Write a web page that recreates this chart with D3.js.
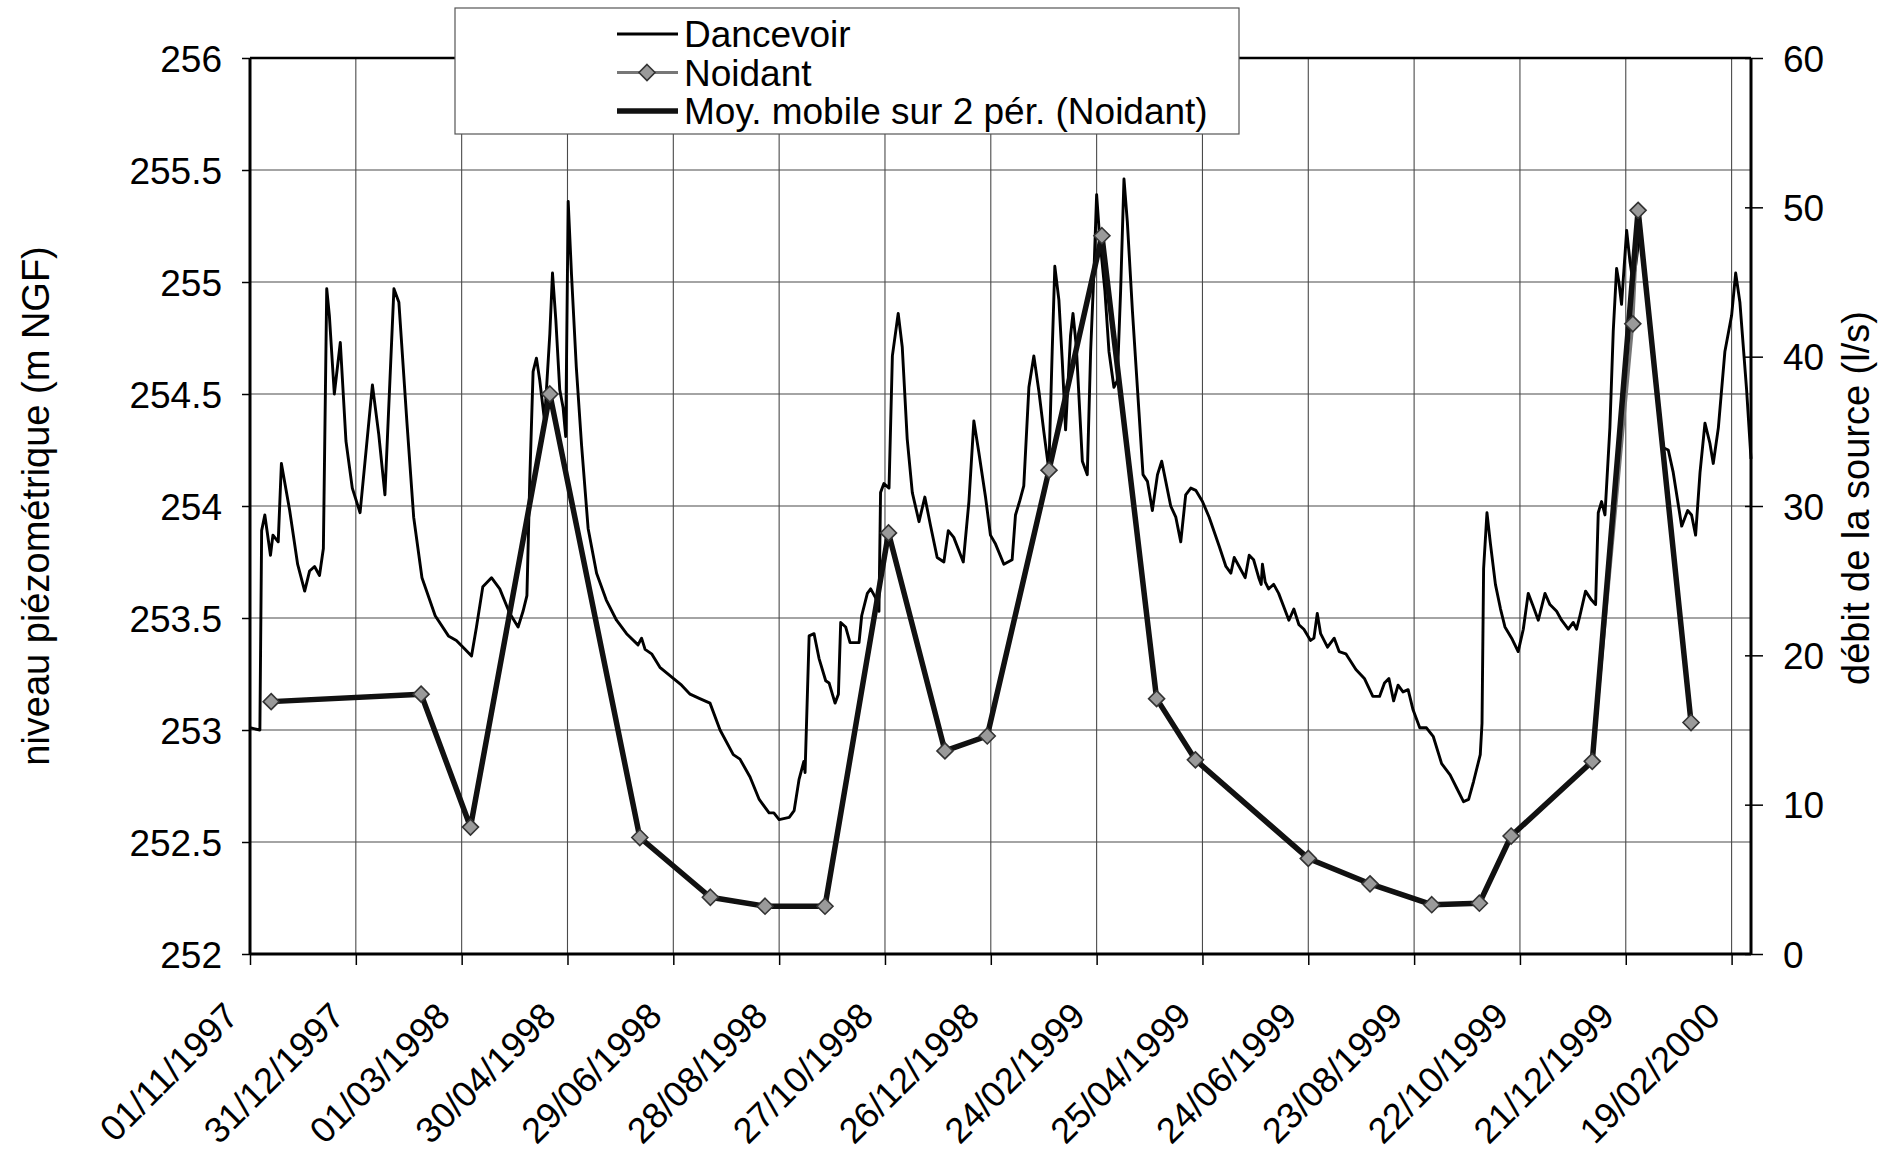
<!DOCTYPE html>
<html>
<head>
<meta charset="utf-8">
<script src="https://cdn.jsdelivr.net/npm/d3@7"></script>
<style>
  html, body { margin: 0; padding: 0; background: #fff; }
  svg { display: block; font-family: "Liberation Sans", Arial, Helvetica, sans-serif; }
</style>
</head>
<body>
<svg id="chart" width="1896" height="1161"></svg>
<script>
// Origine des séries : les jours sont comptés depuis le 01/11/1997
const debut = "1997-11-01";

// Étiquettes de l'axe des dates (pas de 60 jours)
const etiquettesDates = [
  "01/11/1997", "31/12/1997", "01/03/1998", "30/04/1998", "29/06/1998",
  "28/08/1998", "27/10/1998", "26/12/1998", "24/02/1999", "25/04/1999",
  "24/06/1999", "23/08/1999", "22/10/1999", "21/12/1999", "19/02/2000"
];
const finAxe = "01/03/2000";

// Graduations des deux axes verticaux
const ticksNiveau = [252, 252.5, 253, 253.5, 254, 254.5, 255, 255.5, 256];
const ticksDebit = [0, 10, 20, 30, 40, 50, 60];

// Piézomètre de Dancevoir : niveau (m NGF)
const dancevoirJour = [
  0, 5.6, 6.6, 8.4, 11.6, 13, 16, 17.8, 22.5, 27, 31, 33.8, 36.6, 39.4, 41.6, 43.5, 45, 47.8, 51.2, 54.4,
  58, 62.4, 69.4, 73, 76.5, 81.6, 84.4, 89, 92.8, 97.5, 105, 112.5, 117, 121.9, 125.6, 128.4, 132, 136.9, 141.6, 147.3,
  152, 154.8, 157, 158.6, 160.5, 162.4, 164.3, 167, 170, 171.5, 173.4, 175.6, 177.5, 179, 180.4, 182.3, 185, 188, 191.7, 196.5,
  202, 207.8, 213.5, 220, 222, 224, 227.7, 232.4, 240, 244.7, 249.5, 255, 260.8, 266.5, 274, 277.8, 283.5, 288.7, 294.3, 297,
  300, 305.7, 308.5, 311.3, 314, 314.7, 317, 319.8, 322.6, 326.4, 328.3, 331.7, 333.6, 334.9, 337.7, 340.2, 345.3, 346.8, 350, 351.9,
  354.7, 356.6, 357.5, 359.4, 362.3, 364.2, 367.5, 369.8, 372.6, 375.5, 379.3, 382.6, 385.9, 389.6, 393.4, 395.9, 399, 404.4, 407.6, 410.4,
  413.2, 417, 419.8, 422.7, 427.4, 432.1, 434, 436.3, 438.7, 441.6, 444.4, 447.3, 450.1, 452.9, 454.8, 456.3, 458.6, 460.5, 462.4, 465.2,
  466.6, 468.5, 471.9, 474.7, 476.6, 478.5, 480, 481.7, 484.7, 487, 489.8, 491.7, 493.6, 495.5, 497.4, 500.3, 504, 506.3, 508.8, 511.6,
  514.5, 516.9, 519.2, 522, 524.9, 527.7, 530.5, 533.4, 536.2, 540, 543.8, 549.5, 553.3, 556.1, 558, 560.8, 564.2, 566.5, 569, 571.9,
  573.3, 574, 575.6, 577.5, 580.4, 583.2, 586.1, 589, 591.8, 594.7, 597.5, 601.3, 603.2, 605.1, 607, 610.9, 614.7, 617.5, 621.3, 627,
  631.8, 636.6, 640.4, 643.2, 645.7, 648.4, 650.9, 653.7, 656.6, 659.4, 663.2, 667, 670.9, 675.6, 680.4, 684.2, 688, 690.9, 693.7, 697.5,
  698.5, 699.4, 701.3, 703.3, 706.1, 709, 711.5, 715.3, 719, 721.9, 724.7, 727.6, 730.4, 734.2, 737, 740.8, 743.6, 747.4, 750.2, 752.1,
  754, 757.2, 760.6, 762.9, 764.4, 766.3, 768.2, 771, 772.9, 774.8, 776.1, 777.6, 780.5, 782.4, 783.7, 785.2, 788, 790.9, 794.7, 798.4,
  801.3, 804.1, 806.9, 811.7, 815.1, 817.3, 819.6, 822.1, 824.9, 827.7, 829.6, 832.5, 836.2, 840, 842.3, 844.7, 848.5, 851
];
const dancevoirNiveau = [
  253.01, 253.00, 253.89, 253.96, 253.78, 253.87, 253.84, 254.19, 253.98, 253.74, 253.62, 253.71, 253.73, 253.69, 253.81, 254.97, 254.85, 254.50, 254.73, 254.29,
  254.08, 253.97, 254.54, 254.32, 254.05, 254.97, 254.91, 254.37, 253.95, 253.68, 253.51, 253.42, 253.40, 253.36, 253.33, 253.46, 253.64, 253.68, 253.63, 253.52,
  253.46, 253.53, 253.60, 254.11, 254.60, 254.66, 254.56, 254.38, 254.77, 255.04, 254.83, 254.52, 254.44, 254.31, 255.36, 255.03, 254.62, 254.27, 253.90, 253.70,
  253.58, 253.49, 253.43, 253.38, 253.41, 253.36, 253.34, 253.28, 253.23, 253.20, 253.16, 253.14, 253.12, 253.00, 252.89, 252.87, 252.79, 252.69, 252.63, 252.63,
  252.60, 252.61, 252.64, 252.78, 252.86, 252.81, 253.42, 253.43, 253.32, 253.22, 253.21, 253.12, 253.16, 253.48, 253.46, 253.39, 253.39, 253.51, 253.61, 253.63,
  253.59, 253.53, 254.06, 254.10, 254.08, 254.67, 254.86, 254.71, 254.30, 254.06, 253.93, 254.04, 253.91, 253.77, 253.75, 253.89, 253.86, 253.75, 254.02, 254.38,
  254.24, 254.04, 253.87, 253.83, 253.74, 253.76, 253.96, 254.02, 254.09, 254.53, 254.67, 254.51, 254.33, 254.16, 254.69, 255.07, 254.92, 254.65, 254.34, 254.76,
  254.86, 254.71, 254.20, 254.14, 254.69, 255.05, 255.39, 255.20, 254.96, 254.69, 254.53, 254.56, 254.96, 255.46, 255.27, 254.87, 254.42, 254.14, 254.11, 253.98,
  254.14, 254.20, 254.11, 254.00, 253.95, 253.84, 254.05, 254.08, 254.07, 254.02, 253.95, 253.82, 253.73, 253.70, 253.77, 253.73, 253.68, 253.78, 253.76, 253.68,
  253.65, 253.74, 253.66, 253.63, 253.65, 253.61, 253.55, 253.49, 253.54, 253.47, 253.45, 253.40, 253.41, 253.52, 253.43, 253.37, 253.41, 253.35, 253.34, 253.27,
  253.23, 253.15, 253.15, 253.21, 253.23, 253.13, 253.20, 253.17, 253.18, 253.09, 253.01, 253.01, 252.97, 252.85, 252.80, 252.74, 252.68, 252.69, 252.77, 252.89,
  253.03, 253.72, 253.97, 253.83, 253.65, 253.54, 253.46, 253.41, 253.35, 253.45, 253.61, 253.55, 253.49, 253.61, 253.56, 253.53, 253.49, 253.45, 253.48, 253.45,
  253.51, 253.62, 253.58, 253.56, 253.97, 254.02, 253.96, 254.35, 254.78, 255.06, 255.00, 254.90, 255.23, 255.09, 255.02, 255.05, 255.22, 255.03, 254.74, 254.47,
  254.26, 254.25, 254.15, 253.91, 253.98, 253.96, 253.87, 254.15, 254.37, 254.28, 254.19, 254.35, 254.69, 254.85, 255.04, 254.91, 254.52, 254.21
];

// Source de Noidant : débit mesuré (l/s)
const noidantJour = [12, 97, 125, 170, 221, 261, 292, 326, 362, 394, 418, 453, 483, 514, 536, 600, 635, 670, 697, 715, 761, 784, 787, 817];
const noidantDebit = [16.9, 17.4, 8.5, 37.5, 7.8, 3.8, 3.2, 3.2, 28.2, 13.6, 14.6, 32.4, 48.1, 17.1, 13.0, 6.4, 4.7, 3.3, 3.4, 7.9, 12.9, 42.2, 49.8, 15.5];

// Moyenne mobile sur 2 périodes (Noidant)
const moyMobileJour = [12, 97, 125, 170, 221, 261, 292, 326, 362, 394, 418, 453, 483, 514, 536, 600, 635, 670, 697, 715, 761, 787, 817];
const moyMobileDebit = [16.9, 17.4, 8.5, 37.5, 7.8, 3.8, 3.2, 3.2, 28.2, 13.6, 14.6, 32.4, 48.1, 17.1, 13.0, 6.4, 4.7, 3.3, 3.4, 7.9, 12.9, 49.8, 15.5];

// ---------------------------------------------------------------------------
const svg = d3.select("#chart");
const W = 1896, H = 1161;
const plot = { left: 250, right: 1751, top: 58, bottom: 954 };

const parseFr = d3.utcParse("%d/%m/%Y");
const t0 = d3.utcParse("%Y-%m-%d")(debut);
const jour = j => new Date(t0.getTime() + j * 86400000);
const datesTicks = etiquettesDates.map(parseFr);

const x = d3.scaleUtc().domain([t0, parseFr(finAxe)]).range([plot.left, plot.right]);
const yN = d3.scaleLinear().domain([252, 256]).range([plot.bottom, plot.top]);
const yD = d3.scaleLinear().domain([0, 60]).range([plot.bottom, plot.top]);

svg.append("rect").attr("width", W).attr("height", H).attr("fill", "#fff");

// Quadrillage
const grille = svg.append("g").attr("stroke", "#4a4a4a").attr("stroke-width", 1.1);
grille.selectAll("line.h").data(ticksNiveau.slice(1, -1)).join("line")
  .attr("x1", plot.left).attr("x2", plot.right)
  .attr("y1", d => yN(d)).attr("y2", d => yN(d));
grille.selectAll("line.v").data(datesTicks.slice(1)).join("line")
  .attr("y1", plot.top).attr("y2", plot.bottom)
  .attr("x1", d => x(d)).attr("x2", d => x(d));

// Séries
const dancevoir = dancevoirJour.map((j, i) => ({ t: jour(j), v: dancevoirNiveau[i] }));
const noidant = noidantJour.map((j, i) => ({ t: jour(j), v: noidantDebit[i] }));
const moyMobile = moyMobileJour.map((j, i) => ({ t: jour(j), v: moyMobileDebit[i] }));

const ligneN = d3.line().x(d => x(d.t)).y(d => yN(d.v));
const ligneD = d3.line().x(d => x(d.t)).y(d => yD(d.v));

svg.append("path").datum(dancevoir).attr("d", ligneN)
  .attr("fill", "none").attr("stroke", "#000").attr("stroke-width", 2.9)
  .attr("stroke-linejoin", "round");

svg.append("path").datum(noidant).attr("d", ligneD)
  .attr("fill", "none").attr("stroke", "#777").attr("stroke-width", 3)
  .attr("stroke-linejoin", "round");

svg.append("path").datum(moyMobile).attr("d", ligneD)
  .attr("fill", "none").attr("stroke", "#111").attr("stroke-width", 5.5)
  .attr("stroke-linejoin", "round");

const losange = r => `M0,${-r}L${r},0L0,${r}L${-r},0Z`;
svg.append("g").selectAll("path").data(noidant).join("path")
  .attr("d", losange(8))
  .attr("transform", d => `translate(${x(d.t)},${yD(d.v)})`)
  .attr("fill", "#9a9a9a").attr("stroke", "#333").attr("stroke-width", 1.6);

// Axes
const styleAxe = (taille) => g => {
  g.select(".domain").remove();
  g.selectAll(".tick line").attr("stroke", "#000").attr("stroke-width", 1.5);
  g.selectAll("text").attr("fill", "#000").attr("font-size", taille)
    .attr("font-family", "'Liberation Sans', Arial, sans-serif");
};

svg.append("g").attr("transform", `translate(${plot.left},0)`)
  .call(d3.axisLeft(yN).tickValues(ticksNiveau).tickFormat(d => String(d)).tickSize(8).tickPadding(20))
  .call(styleAxe(37))
  .call(g => g.selectAll("text").attr("dy", "0.36em"));

svg.append("g").attr("transform", `translate(${plot.right},0)`)
  .call(d3.axisRight(yD).tickValues(ticksDebit).tickSize(12).tickPadding(20))
  .call(styleAxe(37))
  .call(g => g.selectAll(".tick line").attr("x1", -6))
  .call(g => g.selectAll("text").attr("dy", "0.36em"));

svg.append("g").attr("transform", `translate(0,${plot.bottom})`)
  .call(d3.axisBottom(x).tickValues(datesTicks).tickFormat((d, i) => etiquettesDates[i]).tickSize(11))
  .call(styleAxe(36))
  .call(g => g.selectAll("text")
    .attr("text-anchor", "end").attr("x", null).attr("y", null).attr("dy", null)
    .attr("transform", "translate(-10,64) rotate(-45)"));

// Cadre de la zone de tracé
const cadre = svg.append("g").attr("stroke", "#000").attr("fill", "none");
cadre.append("line").attr("x1", plot.left).attr("x2", plot.right).attr("y1", plot.top).attr("y2", plot.top).attr("stroke-width", 2.5);
cadre.append("line").attr("x1", plot.left).attr("x2", plot.right).attr("y1", plot.bottom).attr("y2", plot.bottom).attr("stroke-width", 3);
cadre.append("line").attr("x1", plot.left).attr("x2", plot.left).attr("y1", plot.top).attr("y2", plot.bottom).attr("stroke-width", 3);
cadre.append("line").attr("x1", plot.right).attr("x2", plot.right).attr("y1", plot.top).attr("y2", plot.bottom).attr("stroke-width", 3);

// Titres des axes
svg.append("text")
  .attr("transform", `translate(36,${(plot.top + plot.bottom) / 2}) rotate(-90)`)
  .attr("text-anchor", "middle").attr("dominant-baseline", "central")
  .attr("font-size", 38).attr("fill", "#000")
  .text("niveau piézométrique (m NGF)");
svg.append("text")
  .attr("transform", `translate(1856,${(plot.top + plot.bottom) / 2 - 8}) rotate(-90)`)
  .attr("text-anchor", "middle").attr("dominant-baseline", "central")
  .attr("font-size", 38).attr("fill", "#000")
  .text("débit de la source (l/s)");

// Légende
const leg = svg.append("g");
leg.append("rect").attr("x", 455).attr("y", 8).attr("width", 784).attr("height", 126)
  .attr("fill", "#fff").attr("stroke", "#555").attr("stroke-width", 1.2);
const entrees = [
  { nom: "Dancevoir", trait: "#000", ep: 2.9, marque: false },
  { nom: "Noidant", trait: "#777", ep: 3, marque: true },
  { nom: "Moy. mobile sur 2 pér. (Noidant)", trait: "#111", ep: 5.5, marque: false }
];
const rangY = [34, 72.5, 111];
entrees.forEach((e, i) => {
  const yy = rangY[i];
  leg.append("line").attr("x1", 617).attr("x2", 678).attr("y1", yy).attr("y2", yy)
    .attr("stroke", e.trait).attr("stroke-width", e.ep);
  if (e.marque) {
    leg.append("path").attr("d", losange(8)).attr("transform", `translate(647,${yy})`)
      .attr("fill", "#9a9a9a").attr("stroke", "#333").attr("stroke-width", 1.6);
  }
  leg.append("text").attr("x", 684).attr("y", yy).attr("dy", "0.36em")
    .attr("font-size", 37).attr("fill", "#000").text(e.nom);
});
</script>
</body>
</html>
